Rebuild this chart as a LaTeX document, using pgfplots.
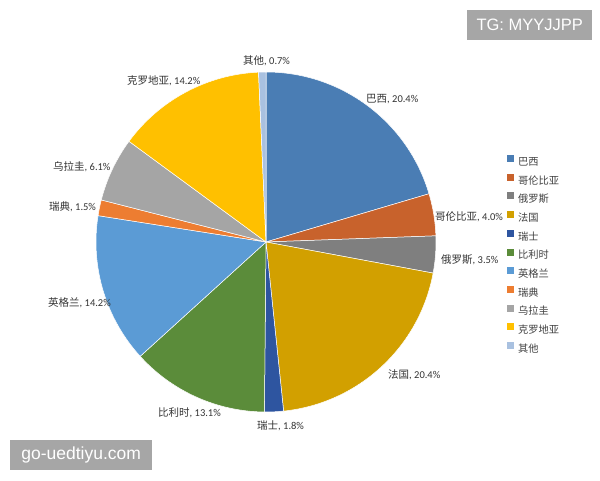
\documentclass[border=0pt]{standalone}
\usepackage{fontspec}
\setmainfont{Carlito}
\newfontfamily\cjk{Noto Sans CJK SC}
\newfontfamily\wm{Liberation Sans}
\usepackage{pgfplots}
\pgfplotsset{compat=1.18}
\definecolor{c1}{HTML}{4A7DB4}
\definecolor{c2}{HTML}{C8622C}
\definecolor{c3}{HTML}{7F7F7F}
\definecolor{c4}{HTML}{D2A000}
\definecolor{c5}{HTML}{2E55A0}
\definecolor{c6}{HTML}{5B8C3A}
\definecolor{c7}{HTML}{5B9BD5}
\definecolor{c8}{HTML}{ED7D31}
\definecolor{c9}{HTML}{A5A5A5}
\definecolor{c10}{HTML}{FFC000}
\definecolor{c11}{HTML}{A9C1E0}
\definecolor{wmgray}{HTML}{A6A6A6}
\definecolor{labtext}{HTML}{333333}
% #1 = cumulative percentage before the slice, #2 = value, #3 = colour
\newcommand\slice[3]{%
  \pgfmathsetmacro\sa{90-(#1)*3.603604}%
  \pgfmathsetmacro\ea{90-(#1+#2)*3.603604}%
  \fill[#3,draw=white,line width=0.5pt] (axis cs:266,238) -- ++(\sa:170pt)
     arc[start angle=\sa,end angle=\ea,radius=170pt] -- cycle;}
\newcommand\lab[2]{{\cjk\fontsize{10.5}{12}\selectfont #1}{\fontsize{10.5}{12}\selectfont, #2\%}}
\begin{document}
\begin{tikzpicture}
\begin{axis}[
  hide axis, scale only axis, width=600pt, height=480pt,
  xmin=0, xmax=600, ymin=0, ymax=480, clip=false,
  legend image code/.code={\fill[#1,draw=none] (0pt,0.3pt) rectangle (7pt,7.3pt);
     \path[draw=none,fill=none] (0pt,0.3pt) rectangle (11pt,7.3pt);},
  legend style={at={(axis cs:507,325.2)}, anchor=north west, draw=none, fill=none,
    inner sep=0pt, row sep=6.4pt, font=\cjk\fontsize{10.25}{12}\selectfont, text=black!75,
    nodes={inner sep=0pt, text height=8pt, text depth=2pt}},
  legend cell align=left,
]
\pgfplotsextra{\slice{0}{20.4}{c1}}
\pgfplotsextra{\slice{20.4}{4.0}{c2}}
\pgfplotsextra{\slice{24.4}{3.5}{c3}}
\pgfplotsextra{\slice{27.9}{20.4}{c4}}
\pgfplotsextra{\slice{48.3}{1.8}{c5}}
\pgfplotsextra{\slice{50.1}{13.1}{c6}}
\pgfplotsextra{\slice{63.2}{14.2}{c7}}
\pgfplotsextra{\slice{77.4}{1.5}{c8}}
\pgfplotsextra{\slice{78.9}{6.1}{c9}}
\pgfplotsextra{\slice{85.0}{14.2}{c10}}
\pgfplotsextra{\slice{99.2}{0.7}{c11}}
\addlegendimage{fill=c1}\addlegendentry{巴西}
\addlegendimage{fill=c2}\addlegendentry{哥伦比亚}
\addlegendimage{fill=c3}\addlegendentry{俄罗斯}
\addlegendimage{fill=c4}\addlegendentry{法国}
\addlegendimage{fill=c5}\addlegendentry{瑞士}
\addlegendimage{fill=c6}\addlegendentry{比利时}
\addlegendimage{fill=c7}\addlegendentry{英格兰}
\addlegendimage{fill=c8}\addlegendentry{瑞典}
\addlegendimage{fill=c9}\addlegendentry{乌拉圭}
\addlegendimage{fill=c10}\addlegendentry{克罗地亚}
\addlegendimage{fill=c11}\addlegendentry{其他}
\begin{scope}[every node/.style={anchor=west, inner sep=0pt, text=labtext}]
\node at (axis cs:243,419) {\lab{其他}{0.7}};
\node at (axis cs:366,381) {\lab{巴西}{20.4}};
\node at (axis cs:435,263) {\lab{哥伦比亚}{4.0}};
\node at (axis cs:441,220) {\lab{俄罗斯}{3.5}};
\node at (axis cs:388,105) {\lab{法国}{20.4}};
\node at (axis cs:257,54) {\lab{瑞士}{1.8}};
\node at (axis cs:158,67) {\lab{比利时}{13.1}};
\node at (axis cs:48,177) {\lab{英格兰}{14.2}};
\node at (axis cs:49,273) {\lab{瑞典}{1.5}};
\node at (axis cs:53,313) {\lab{乌拉圭}{6.1}};
\node at (axis cs:127,399) {\lab{克罗地亚}{14.2}};
\end{scope}
\node[fill=wmgray, text=white, font=\wm\fontsize{16.5}{18}\selectfont, minimum width=125pt,
  minimum height=30pt, inner sep=0pt, anchor=north west] at (axis cs:467,470) {TG: MYYJJPP};
\node[fill=wmgray, text=white, font=\wm\fontsize{17.5}{20}\selectfont, minimum width=142pt,
  minimum height=30pt, inner sep=0pt, anchor=south west] at (axis cs:10,10) {go-uedtiyu.com};
\end{axis}
\pgfresetboundingbox
\path (0,0) rectangle (600pt,480pt);
\end{tikzpicture}
\end{document}
